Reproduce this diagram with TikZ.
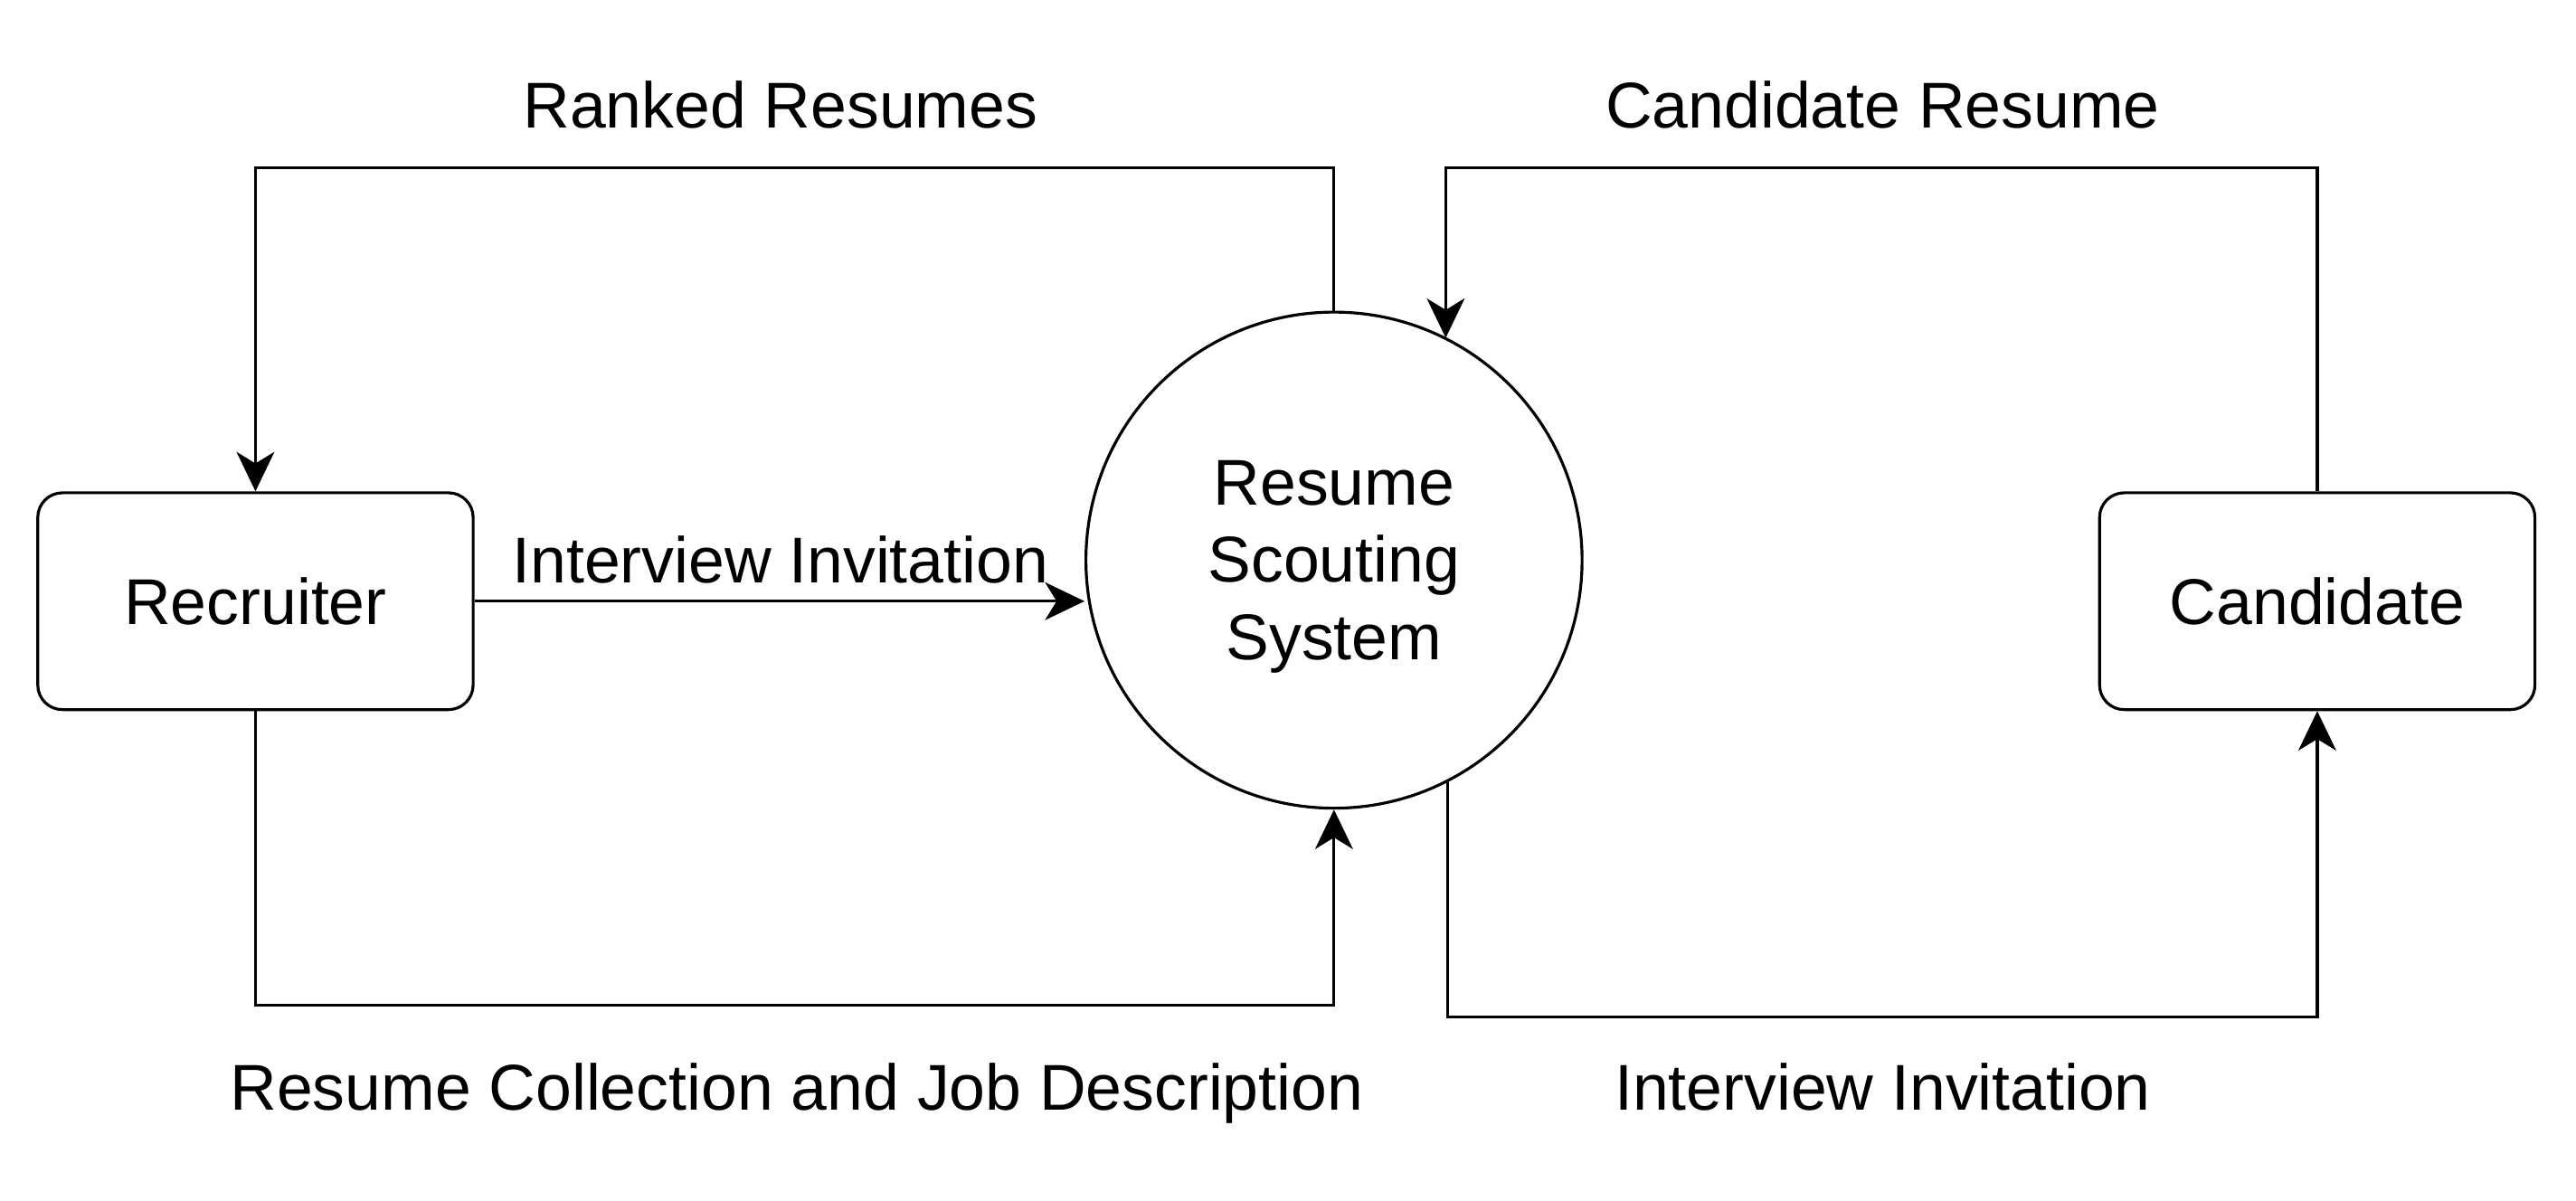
\documentclass[tikz,border=0pt]{standalone}
\usepackage{fontspec}
\setmainfont{Liberation Sans}
\usetikzlibrary{arrows.meta}
\begin{document}
\begin{tikzpicture}[x=1pt,y=-1pt,
  every node/.style={font=\fontsize{39.4}{47}\selectfont},
  entity/.style={draw,line width=1.75pt,rounded corners=15pt,minimum width=265pt,minimum height=132pt,inner sep=0pt},
  proc/.style={draw,line width=1.75pt,circle,minimum size=302pt,inner sep=0pt},
  flow/.style={line width=1.75pt,-{Stealth[length=24pt,width=23pt,inset=7pt]}},
  lbl/.style={inner sep=0pt,anchor=base}]
\useasboundingbox (0,0) rectangle (1568,731);
\node[entity] (rec) at (155.5,366) {Recruiter};
\node[entity] (cand) at (1410.5,366) {Candidate};
\node[proc,label={[name=systext,align=center,yshift=-4pt]center:Resume\\Scouting\\System}] (sys) at (812,341) {};
\coordinate (tl) at (155.5,102);
\coordinate (tr) at (880,102);
\coordinate (bl) at (812,612);
\coordinate (br) at (1410.5,619);
\draw[flow] (sys.north) |- (tl) -- (rec.north);
\draw[flow] (cand.north) |- (tr) -- (sys.63.2 -| tr);
\draw[flow] (rec.south) |- (bl) -- (sys.south);
\draw[flow] (sys.-63) |- (br) -- (cand.south);
\draw[flow] (rec.east) -- (rec.east -| sys.west);
\node[lbl] (l1) at (475,78) {Ranked Resumes};
\node[lbl] (l2) at (1146,78) {Candidate Resume};
\node[lbl] (l3) at (475,355) {Interview Invitation};
\node[lbl] (l4) at (485,676) {Resume Collection and Job Description};
\node[lbl] (l5) at (1146,676) {Interview Invitation};
\end{tikzpicture}
\end{document}
